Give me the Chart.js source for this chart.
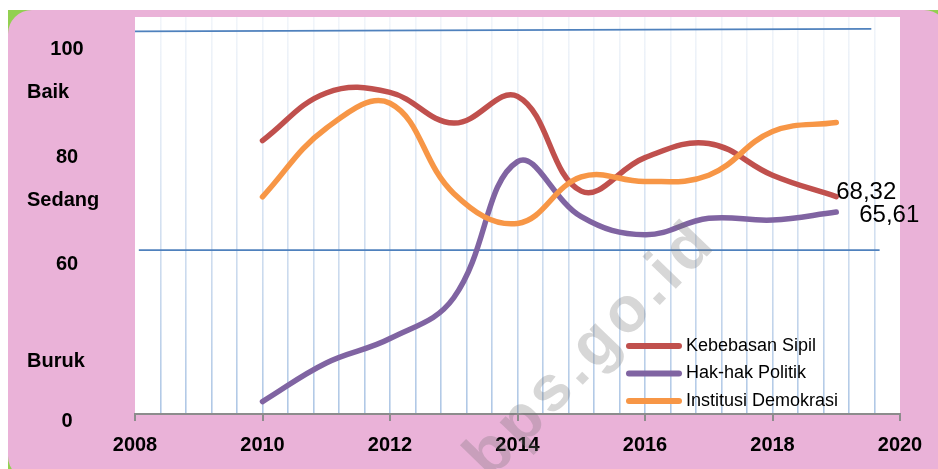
<!DOCTYPE html>
<html>
<head>
<meta charset="utf-8">
<script src="https://cdn.jsdelivr.net/npm/chart.js@4/dist/chart.umd.min.js"></script>
<style>
  html, body { margin: 0; padding: 0; background: #fff; width: 938px; height: 469px; overflow: hidden; }
  #frame { position: absolute; left: 8px; top: 10px; width: 940px; height: 470px; background: #92D050; }
  #panel { position: absolute; left: 0; top: 0; right: 0; bottom: 0; background: #EAB2D8; border-radius: 24px; }
  #wrap { position: absolute; left: 0; top: 0; width: 938px; height: 469px; }
</style>
</head>
<body>
<div id="frame"><div id="panel"></div></div>
<div id="wrap"><canvas id="c" width="938" height="469"></canvas></div>
<script>
// Indeks per aspek, 2010-2019
const years = [2010, 2011, 2012, 2013, 2014, 2015, 2016, 2017, 2018, 2019];
const kebebasanSipil     = [78.2, 86.6, 86.7, 81.3, 86.0, 69.3, 75.2, 77.7, 72.1, 68.32];
const hakHakPolitik      = [32.2, 39.0, 43.3, 50.5, 74.5, 64.8, 61.6, 64.5, 64.2, 65.61];
const institusiDemokrasi = [68.3, 80.4, 84.8, 68.9, 63.6, 71.8, 71.0, 72.1, 79.8, 81.4];
const seriesNames = ['Kebebasan Sipil', 'Hak-hak Politik', 'Institusi Demokrasi'];

// Sumbu
const xTickYears = [2008, 2010, 2012, 2014, 2016, 2018, 2020];
const yLabelTexts  = ['100', 'Baik', '80', 'Sedang', '60', 'Buruk', '0'];
const yLabelLevels = [94.3, 86.7, 75.2, 67.7, 56.4, 39.2, 28.6];

// Garis batas kategori
const batasAtasX = [2008, 2019.55];
const batasAtasY = [97.45, 97.9];
const batasBawahX = [2008.06, 2019.68];
const batasBawahY = [58.9, 58.9];

const FONT = "'Liberation Sans', Arial, sans-serif";
const toPoints = (xs, ys) => xs.map((x, i) => ({ x, y: ys[i] }));

const seriesColors = ['#C0504D', '#8064A2', '#F79646'];
const seriesData = [kebebasanSipil, hakHakPolitik, institusiDemokrasi];
const endLabelOffsets = [{ dx: 0, dy: 2 }, { dx: 23, dy: 10 }, null];

const datasets = seriesData.map((vals, i) => ({
  label: seriesNames[i],
  data: toPoints(years, vals),
  borderColor: seriesColors[i],
  backgroundColor: seriesColors[i],
  borderWidth: 5.5,
  borderCapStyle: 'round',
  pointRadius: 0,
  tension: 0.4,
  order: 3 - i,
  endLabel: endLabelOffsets[i]
}));

[[batasAtasX, batasAtasY], [batasBawahX, batasBawahY]].forEach(([xs, ys], k) => {
  datasets.push({
    label: '',
    isGuide: true,
    data: toPoints(xs, ys),
    borderColor: '#4F81BD',
    borderWidth: 1.8,
    pointRadius: 0,
    tension: 0,
    order: 10 + k
  });
});

const decor = {
  id: 'decor',
  beforeDraw(chart) {
    const { ctx, chartArea: a } = chart;
    ctx.save();
    ctx.fillStyle = '#ffffff';
    ctx.fillRect(a.left, a.top, a.right - a.left, a.bottom - a.top);
    ctx.restore();
  },
  afterDraw(chart) {
    const { ctx, chartArea: a, scales } = chart;
    const yScale = scales.y;
    ctx.save();

    // label sumbu kiri
    ctx.fillStyle = '#000';
    ctx.font = `bold 20px ${FONT}`;
    ctx.textBaseline = 'middle';
    yLabelTexts.forEach((t, i) => {
      const py = yScale.getPixelForValue(yLabelLevels[i]);
      if (/^\d+$/.test(t)) {
        ctx.textAlign = 'center';
        ctx.fillText(t, a.left - 68, py);
      } else {
        ctx.textAlign = 'left';
        ctx.fillText(t, a.left - 108, py);
      }
    });

    // legenda
    const lx = a.right - 274;
    const ly = a.bottom - 68;
    ctx.font = `18px ${FONT}`;
    ctx.textAlign = 'left';
    ctx.textBaseline = 'middle';
    chart.data.datasets.filter(d => !d.isGuide).forEach((d, i) => {
      const yy = ly + i * 27.5;
      ctx.strokeStyle = d.borderColor;
      ctx.lineWidth = 6;
      ctx.lineCap = 'round';
      ctx.beginPath();
      ctx.moveTo(lx + 3, yy);
      ctx.lineTo(lx + 53, yy);
      ctx.stroke();
      ctx.fillStyle = '#000';
      ctx.fillText(d.label, lx + 60, yy);
    });

    // nilai titik terakhir
    ctx.font = `24px ${FONT}`;
    ctx.textBaseline = 'alphabetic';
    ctx.fillStyle = '#000';
    chart.data.datasets.forEach((d, di) => {
      if (!d.endLabel) return;
      const meta = chart.getDatasetMeta(di);
      const last = meta.data[meta.data.length - 1];
      const v = d.data[d.data.length - 1].y;
      ctx.fillText(v.toFixed(2).replace('.', ','), last.x + d.endLabel.dx, last.y + d.endLabel.dy);
    });

    // tanda air
    ctx.translate(592, 350);
    ctx.rotate(-46 * Math.PI / 180);
    ctx.font = `bold 64px ${FONT}`;
    ctx.letterSpacing = '5px';
    ctx.textAlign = 'center';
    ctx.textBaseline = 'middle';
    ctx.fillStyle = 'rgba(110,110,110,0.28)';
    ctx.fillText('bps.go.id', 0, 0);
    ctx.restore();
  }
};

function gridGradient(ctx) {
  const area = ctx.chart.chartArea;
  const v = ctx.tick && ctx.tick.value;
  if (v !== undefined && (Math.abs(v - 2008) < 1e-6 || Math.abs(v - 2020) < 1e-6)) return 'rgba(0,0,0,0)';
  if (!area) return 'rgba(185,205,230,0.7)';
  const g = ctx.chart.ctx.createLinearGradient(0, area.top, 0, area.bottom);
  g.addColorStop(0, 'rgba(200,215,235,0.25)');
  g.addColorStop(1, 'rgba(170,196,228,0.95)');
  return g;
}

new Chart(document.getElementById('c'), {
  type: 'line',
  data: { datasets },
  plugins: [decor],
  options: {
    responsive: false,
    animation: false,
    layout: { padding: { left: 135, right: 38, top: 17, bottom: 0 } },
    plugins: { legend: { display: false }, tooltip: { enabled: false } },
    scales: {
      x: {
        type: 'linear',
        position: 'bottom',
        min: 2008,
        max: 2020,
        afterBuildTicks: s => { s.ticks = xTickYears.map(v => ({ value: v })); },
        afterFit: s => { s.height = 55; },
        grid: { drawOnChartArea: false, drawTicks: true, tickLength: 7, color: '#8c8c8c', lineWidth: 2 },
        border: { display: true, color: '#8c8c8c', width: 2 },
        ticks: {
          color: '#000',
          font: { family: FONT, size: 20, weight: 'bold' },
          padding: 12,
          maxRotation: 0,
          callback: v => String(v)
        }
      },
      xg: {
        type: 'linear',
        position: 'bottom',
        min: 2008,
        max: 2020,
        afterBuildTicks: s => {
          const t = [];
          for (let i = 0; i <= 30; i++) t.push({ value: +(2008 + i * 0.4).toFixed(1) });
          s.ticks = t;
        },
        afterFit: s => { s.height = 0; },
        grid: { drawOnChartArea: true, drawTicks: false, color: gridGradient, lineWidth: 1.6 },
        border: { display: false },
        ticks: { display: false }
      },
      y: {
        display: false,
        min: 30,
        max: 100
      }
    }
  }
});
</script>
</body>
</html>
